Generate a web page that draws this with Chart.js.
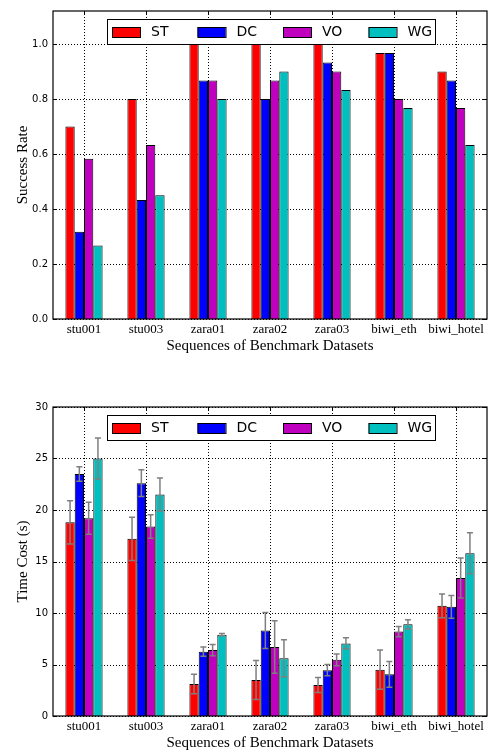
<!DOCTYPE html>
<html>
<head>
<meta charset="utf-8">
<script src="https://cdn.jsdelivr.net/npm/chart.js@4.4.1/dist/chart.umd.min.js"></script>
<style>
  html, body { margin: 0; padding: 0; background: #fff; }
  #wrap { position: relative; width: 488px; height: 754px; }
  .box { position: absolute; left: 0; width: 488px; }
</style>
</head>
<body>
<div id="wrap">
  <div class="box" style="top:0;height:355px"><canvas id="rate" width="488" height="355"></canvas></div>
  <div class="box" style="top:355px;height:399px"><canvas id="cost" width="488" height="399"></canvas></div>
</div>
<script>
// categories + series
const sequences = ['stu001', 'stu003', 'zara01', 'zara02', 'zara03', 'biwi_eth', 'biwi_hotel'];
const methods = ['ST', 'DC', 'VO', 'WG'];
const methodColors = ['#ff0000', '#0000ff', '#bf00bf', '#00bfbf'];

// success rate
const rateST = [0.70, 0.80, 1.00, 1.00, 1.00, 0.967, 0.90];
const rateDC = [0.317, 0.433, 0.867, 0.80, 0.933, 0.967, 0.867];
const rateVO = [0.583, 0.633, 0.867, 0.867, 0.90, 0.80, 0.767];
const rateWG = [0.267, 0.45, 0.80, 0.90, 0.833, 0.767, 0.633];
const rateTicks = [0, 0.2, 0.4, 0.6, 0.8, 1.0];

// time cost (s) and std
const costST = [18.8, 17.2, 3.1, 3.5, 3.0, 4.5, 10.7];
const costDC = [23.5, 22.6, 6.25, 8.3, 4.45, 4.05, 10.6];
const costVO = [19.2, 18.4, 6.4, 6.7, 5.45, 8.2, 13.4];
const costWG = [25.0, 21.5, 7.9, 5.6, 7.05, 8.9, 15.8];
const errST = [2.1, 2.1, 0.95, 1.9, 0.73, 1.9, 1.15];
const errDC = [0.7, 1.3, 0.45, 1.75, 0.55, 1.25, 1.1];
const errVO = [1.55, 1.15, 0.55, 2.55, 0.57, 0.5, 1.95];
const errWG = [2.0, 1.6, 0.1, 1.8, 0.55, 0.45, 2.0];
const costTicks = [0, 5, 10, 15, 20, 25, 30];

const xTitle = 'Sequences of Benchmark Datasets';

const SANS = '"DejaVu Sans", sans-serif';
const SERIF = '"Liberation Serif", "Times New Roman", serif';

// dotted grid, frame, inward ticks, error bars, legend, x title
const framePlugin = {
  id: 'frame',
  beforeDatasetsDraw(chart) {
    const ctx = chart.ctx;
    const a = chart.chartArea;
    const xs = chart.scales.x, ys = chart.scales.y;
    ctx.save();
    ctx.strokeStyle = '#000';
    ctx.lineWidth = 1;
    ctx.setLineDash([1, 2]);
    ctx.beginPath();
    ys.ticks.forEach((t, i) => {
      const y = Math.round(ys.getPixelForTick(i)) + 0.5;
      ctx.moveTo(a.left, y); ctx.lineTo(a.right, y);
    });
    xs.ticks.forEach((t, i) => {
      const x = Math.round(xs.getPixelForValue(i)) + 0.5;
      ctx.moveTo(x, a.top); ctx.lineTo(x, a.bottom);
    });
    ctx.stroke();
    ctx.restore();
  },
  afterDatasetsDraw(chart) {
    const ctx = chart.ctx;
    const a = chart.chartArea;
    const xs = chart.scales.x, ys = chart.scales.y;

    // error bars
    ctx.save();
    ctx.strokeStyle = '#7f7f7f';
    ctx.lineWidth = 1.5;
    chart.data.datasets.forEach((ds, di) => {
      if (!ds.errors) return;
      const meta = chart.getDatasetMeta(di);
      meta.data.forEach((bar, i) => {
        const v = ds.data[i], e = ds.errors[i];
        const yTop = ys.getPixelForValue(v + e);
        const yBot = ys.getPixelForValue(v - e);
        ctx.beginPath();
        ctx.moveTo(bar.x, yTop); ctx.lineTo(bar.x, yBot);
        ctx.moveTo(bar.x - 3, yTop); ctx.lineTo(bar.x + 3, yTop);
        ctx.moveTo(bar.x - 3, yBot); ctx.lineTo(bar.x + 3, yBot);
        ctx.stroke();
      });
    });
    ctx.restore();

    ctx.save();
    ctx.strokeStyle = '#000';
    ctx.lineWidth = 1;
    ctx.beginPath();
    ys.ticks.forEach((t, i) => {
      const y = Math.round(ys.getPixelForTick(i)) + 0.5;
      ctx.moveTo(a.left, y); ctx.lineTo(a.left + 4, y);
      ctx.moveTo(a.right, y); ctx.lineTo(a.right - 4, y);
    });
    xs.ticks.forEach((t, i) => {
      const x = Math.round(xs.getPixelForValue(i)) + 0.5;
      ctx.moveTo(x, a.bottom); ctx.lineTo(x, a.bottom - 4);
      ctx.moveTo(x, a.top); ctx.lineTo(x, a.top + 4);
    });
    ctx.stroke();
    ctx.lineWidth = 1.2;
    ctx.strokeRect(a.left, a.top, a.right - a.left, a.bottom - a.top);
    ctx.restore();
  },
  afterDraw(chart) {
    const ctx = chart.ctx;
    const a = chart.chartArea;
    const bx = a.left + 54, by = a.top + 8, bw = 328, bh = 25;
    ctx.save();
    ctx.fillStyle = '#fff';
    ctx.fillRect(bx, by, bw, bh);
    ctx.strokeStyle = '#000';
    ctx.lineWidth = 1;
    ctx.strokeRect(bx + 0.5, by + 0.5, bw, bh);
    ctx.font = '14px ' + SANS;
    ctx.textBaseline = 'middle';
    chart.data.datasets.forEach((ds, i) => {
      const px = bx + 5 + i * 85.5;
      ctx.fillStyle = ds.backgroundColor;
      ctx.fillRect(px, by + 8, 28, 10);
      ctx.strokeRect(px + 0.5, by + 8.5, 28, 10);
      ctx.fillStyle = '#000';
      ctx.fillText(ds.label, px + 39, by + 13);
    });

    // x axis title
    ctx.font = '15px ' + SERIF;
    ctx.textAlign = 'center';
    ctx.fillText(xTitle, (a.left + a.right) / 2, a.bottom + 27);
    ctx.restore();
  }
};

function makeDatasets(series, errors) {
  return methods.map((m, i) => ({
    label: m,
    data: series[i],
    errors: errors ? errors[i] : null,
    backgroundColor: methodColors[i],
    borderColor: '#000',
    borderWidth: 1,
    categoryPercentage: 0.6,
    barPercentage: 1.0
  }));
}

function makeChart(id, datasets, opts) {
  return new Chart(document.getElementById(id).getContext('2d'), {
    type: 'bar',
    data: { labels: sequences, datasets: datasets },
    plugins: [framePlugin],
    options: {
      responsive: false,
      animation: false,
      devicePixelRatio: 1,
      layout: { padding: { top: opts.padTop, right: 1, left: 14, bottom: 0 } },
      plugins: { legend: { display: false }, tooltip: { enabled: false } },
      scales: {
        x: {
          offset: true,
          grid: { display: false, drawTicks: false },
          border: { display: false },
          ticks: { color: '#000', font: { family: SERIF, size: 13 }, padding: 3, maxRotation: 0 },
          afterFit(s) { s.height = opts.xHeight; }
        },
        y: {
          min: 0,
          max: opts.yMax,
          afterBuildTicks(s) { s.ticks = opts.ticks.map(v => ({ value: v })); },
          grid: { display: false, drawTicks: false },
          border: { display: false },
          ticks: { color: '#000', font: { family: SANS, size: 10 }, padding: 5,
                   callback: opts.fmt },
          title: { display: true, text: opts.yTitle, color: '#000',
                   font: { family: SERIF, size: 15 }, padding: { top: 0, bottom: 0 } },
          afterFit(s) { s.width = 39; }
        }
      }
    }
  });
}

makeChart('rate', makeDatasets([rateST, rateDC, rateVO, rateWG]), {
  padTop: 5, xHeight: 36, yMax: 1.12, ticks: rateTicks,
  yTitle: 'Success Rate', fmt: v => v.toFixed(1)
});

makeChart('cost', makeDatasets([costST, costDC, costVO, costWG], [errST, errDC, errVO, errWG]), {
  padTop: 52, xHeight: 38, yMax: 30, ticks: costTicks,
  yTitle: 'Time Cost (s)', fmt: v => String(v)
});
</script>
</body>
</html>
